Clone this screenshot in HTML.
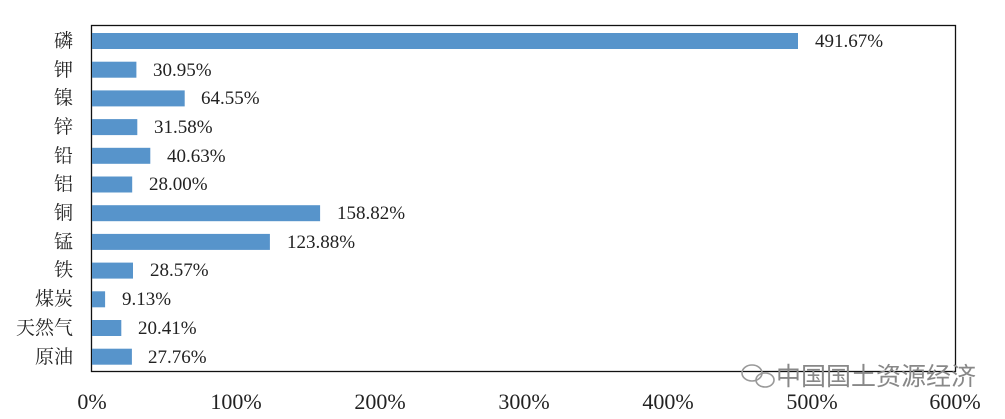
<!DOCTYPE html>
<html><head><meta charset="utf-8"><style>
body{margin:0;background:#fff;}
</style></head><body>
<svg width="1005" height="419" xmlns="http://www.w3.org/2000/svg" style="display:block">
<rect x="91.5" y="25.5" width="864" height="346" fill="none" stroke="#111" stroke-width="1.3"/>
<g fill="#5794cb">
<rect x="92" y="33" width="706" height="16"/>
<rect x="92" y="61.7" width="44.4" height="16"/>
<rect x="92" y="90.4" width="92.7" height="16"/>
<rect x="92" y="119.1" width="45.3" height="16"/>
<rect x="92" y="147.8" width="58.3" height="16"/>
<rect x="92" y="176.5" width="40.2" height="16"/>
<rect x="92" y="205.2" width="228.1" height="16"/>
<rect x="92" y="233.9" width="177.9" height="16"/>
<rect x="92" y="262.6" width="41" height="16"/>
<rect x="92" y="291.3" width="13.1" height="16"/>
<rect x="92" y="320" width="29.3" height="16"/>
<rect x="92" y="348.7" width="39.9" height="16"/>
</g>
<g font-family="Liberation Serif, serif" font-size="19" fill="#222">
<text x="815" y="47">491.67%</text>
<text x="153" y="76">30.95%</text>
<text x="201" y="104">64.55%</text>
<text x="154" y="133">31.58%</text>
<text x="167" y="162">40.63%</text>
<text x="149" y="190">28.00%</text>
<text x="337" y="219">158.82%</text>
<text x="287" y="248">123.88%</text>
<text x="150" y="276">28.57%</text>
<text x="122" y="305">9.13%</text>
<text x="138" y="334">20.41%</text>
<text x="148" y="363">27.76%</text>
</g>
<g font-family="Liberation Serif, 'Noto Serif CJK SC', serif" font-size="19" fill="#222" text-anchor="end">
<text x="73" y="47">磷</text>
<text x="73" y="76">钾</text>
<text x="73" y="104">镍</text>
<text x="73" y="133">锌</text>
<text x="73" y="162">铅</text>
<text x="73" y="190">铝</text>
<text x="73" y="219">铜</text>
<text x="73" y="248">锰</text>
<text x="73" y="276">铁</text>
<text x="73" y="305">煤炭</text>
<text x="73" y="334">天然气</text>
<text x="73" y="363">原油</text>
</g>
<g font-family="Liberation Serif, serif" font-size="22" fill="#222" text-anchor="middle">
<text x="92" y="409">0%</text>
<text x="236" y="409">100%</text>
<text x="380" y="409">200%</text>
<text x="524" y="409">300%</text>
<text x="668" y="409">400%</text>
<text x="812" y="409">500%</text>
<text x="955" y="409">600%</text>
</g>
<g fill="none" stroke="#999" stroke-width="1.6">
<ellipse cx="752" cy="373" rx="10" ry="8"/>
<ellipse cx="765" cy="380" rx="9" ry="7"/>
</g>
<text x="776" y="385" font-family="'Noto Sans CJK SC', sans-serif" font-size="25" fill="#888">中国国土资源经济</text>
</svg>
</body></html>
